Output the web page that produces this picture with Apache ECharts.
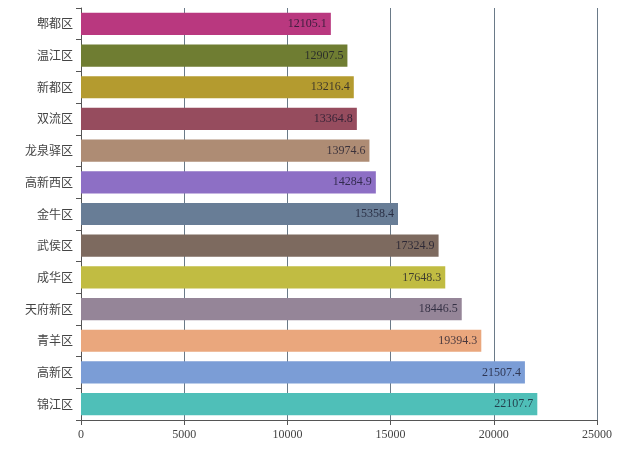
<!DOCTYPE html>
<html><head><meta charset="utf-8">
<script src="https://cdn.jsdelivr.net/npm/echarts@6/dist/echarts.min.js"></script>
<style>html,body{margin:0;padding:0;background:#fff}#c{width:627px;height:467px}</style>
</head><body><div id="c"></div>
<script>
const categories = ['郫都区','温江区','新都区','双流区','龙泉驿区','高新西区','金牛区','武侯区','成华区','天府新区','青羊区','高新区','锦江区'];
const values = [12105.1,12907.5,13216.4,13364.8,13974.6,14284.9,15358.4,17324.9,17648.3,18446.5,19394.3,21507.4,22107.7];
const colors = ['#b9387f','#6f7d32','#b49b2f','#964c5e','#ae8c74','#8d6fc5','#687d96','#7d6a5f','#c1bc42','#958598','#eaa77d','#7b9dd6','#4fbfb8'];
const xTicks = [0,5000,10000,15000,20000,25000];

const chart = echarts.init(document.getElementById('c'));
chart.setOption({
  animation:false,
  grid:{left:81,right:30,top:8,bottom:47,containLabel:false},
  xAxis:{type:'value',min:xTicks[0],max:xTicks[xTicks.length-1],interval:xTicks[1]-xTicks[0],
    axisLine:{show:true,lineStyle:{color:'#555'}},
    axisTick:{show:true,length:5,lineStyle:{color:'#555'}},
    axisLabel:{color:'#444',fontFamily:'Liberation Serif',fontSize:12,margin:9,formatter:v=>String(v)},
    splitLine:{show:true,lineStyle:{color:'#6a7a88',width:1}}},
  yAxis:{type:'category',data:categories,inverse:true,
    axisLine:{show:true,lineStyle:{color:'#555'}},
    axisTick:{show:true,length:5,lineStyle:{color:'#555'}},
    axisLabel:{color:'#444',fontFamily:'Noto Sans CJK SC',fontSize:12,margin:8}},
  series:[{type:'bar',barCategoryGap:'30%',
    data:values.map((v,i)=>({value:v,itemStyle:{color:colors[i]}})),
    label:{show:true,position:'insideRight',formatter:p=>String(p.value),color:'rgba(20,20,40,0.75)',fontFamily:'Liberation Serif',fontSize:12,distance:4}}]
});
</script></body></html>
